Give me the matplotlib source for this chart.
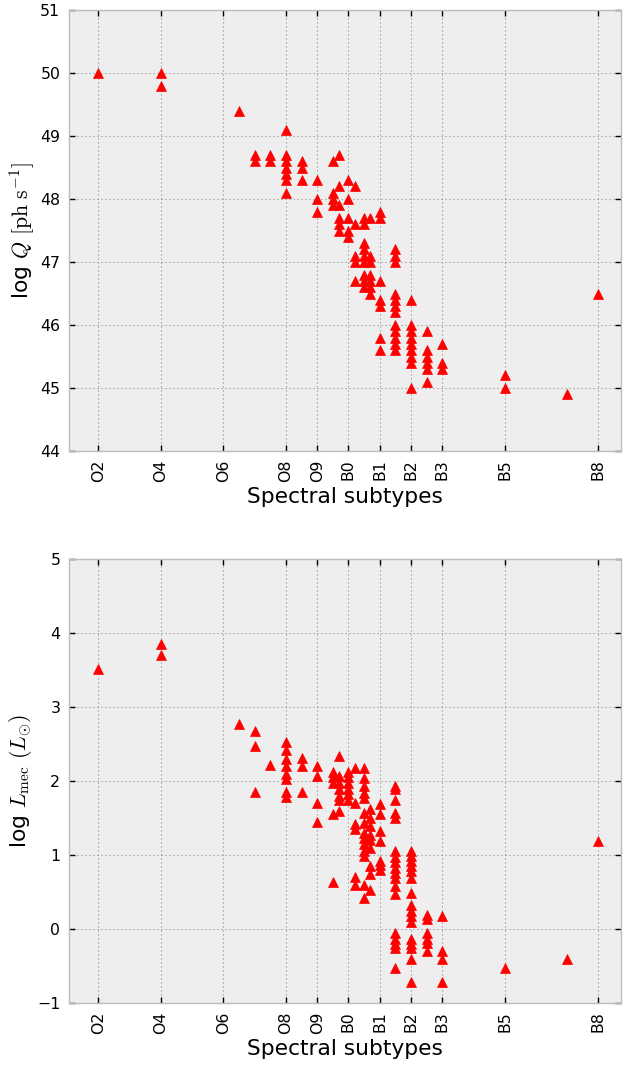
import matplotlib
matplotlib.use('Agg')
import matplotlib.pyplot as plt

# Spectral subtype axis (numeric position -> label)
tick_pos = [2, 4, 6, 8, 9, 10, 11, 12, 13, 15, 18]
tick_labels = ['O2', 'O4', 'O6', 'O8', 'O9', 'B0', 'B1', 'B2', 'B3', 'B5', 'B8']

# Top panel: log Q per spectral subtype
q_types = [2, 4, 6.5, 7, 7.5, 8, 8.5, 9, 9.5, 9.7, 10, 10.2, 10.5, 10.7,
           11, 11.5, 12, 12.5, 13, 15, 17, 18]
q_vals = [
    [50.0],
    [50.0, 49.8],
    [49.4],
    [48.7, 48.6],
    [48.7, 48.6],
    [49.1, 48.7, 48.6, 48.5, 48.4, 48.3, 48.1],
    [48.6, 48.5, 48.3],
    [48.3, 48.0, 47.8],
    [48.6, 48.1, 48.0, 47.9],
    [48.7, 48.2, 47.9, 47.7, 47.6, 47.5],
    [48.3, 48.0, 47.7, 47.5, 47.4],
    [48.2, 47.6, 47.1, 47.0, 46.7],
    [47.7, 47.6, 47.3, 47.2, 47.1, 47.0, 46.8, 46.7, 46.6],
    [47.7, 47.1, 47.0, 46.8, 46.7, 46.6, 46.5],
    [47.8, 47.7, 46.7, 46.4, 46.3, 45.8, 45.6],
    [47.2, 47.1, 47.0, 46.5, 46.4, 46.3, 46.2, 46.0, 45.9, 45.8, 45.7, 45.6],
    [46.4, 46.0, 45.9, 45.8, 45.7, 45.6, 45.5, 45.4, 45.0],
    [45.9, 45.6, 45.5, 45.4, 45.3, 45.1],
    [45.7, 45.4, 45.3],
    [45.2, 45.0],
    [44.9],
    [46.5],
]

# Bottom panel: log L_mec per spectral subtype
l_types = [2, 4, 6.5, 7, 7.5, 8, 8.5, 9, 9.5, 9.7, 10, 10.2, 10.5, 10.7,
           11, 11.5, 12, 12.5, 13, 15, 17, 18]
l_vals = [
    [3.51],
    [3.86, 3.70],
    [2.77],
    [2.68, 2.47, 1.85],
    [2.22],
    [2.53, 2.42, 2.30, 2.20, 2.10, 2.03, 1.85, 1.79],
    [2.31, 2.20, 1.86],
    [2.21, 2.07, 1.71, 1.45],
    [2.13, 2.06, 1.98, 1.55, 0.64],
    [2.34, 2.07, 1.98, 1.89, 1.80, 1.75, 1.60],
    [2.13, 2.05, 1.97, 1.89, 1.82, 1.74],
    [2.18, 1.71, 1.42, 1.35, 0.71, 0.60],
    [2.18, 2.04, 1.93, 1.84, 1.77, 1.57, 1.43, 1.30, 1.23, 1.15, 1.05, 0.99, 0.60, 0.42],
    [1.62, 1.50, 1.40, 1.27, 1.20, 1.10, 0.85, 0.74, 0.53],
    [1.69, 1.55, 1.32, 1.19, 0.92, 0.87, 0.80],
    [1.94, 1.89, 1.74, 1.57, 1.50, 1.05, 0.97, 0.90, 0.83, 0.76, 0.69, 0.58, 0.47,
     -0.06, -0.13, -0.20, -0.26, -0.53],
    [1.05, 0.99, 0.92, 0.85, 0.78, 0.69, 0.49, 0.33, 0.24, 0.17, 0.10,
     -0.13, -0.20, -0.26, -0.40, -0.71],
    [0.19, 0.14, -0.06, -0.13, -0.19, -0.30],
    [0.17, -0.30, -0.40, -0.71],
    [-0.53],
    [-0.40],
    [1.19],
]

q_yticks = list(range(44, 52))
l_yticks = list(range(-1, 6))

plt.rcParams['mathtext.fontset'] = 'cm'
plt.rcParams['font.family'] = ['DejaVu Sans']

fig = plt.figure(figsize=(6.23, 10.65), dpi=100)
left, width = 68.7 / 623, (621 - 68.7) / 623
ax1 = fig.add_axes([left, 1 - 451 / 1065, width, 441 / 1065])
ax2 = fig.add_axes([left, 1 - 1003 / 1065, width, (1003 - 559.3) / 1065])


def flatten(types, vals):
    xs, ys = [], []
    for t, vs in zip(types, vals):
        for v in vs:
            xs.append(t)
            ys.append(v)
    return xs, ys


def style(ax, yticks, ylabel):
    ax.set_facecolor('#eeeeee')
    for s in ax.spines.values():
        s.set_color('#bcbcbc')
        s.set_linewidth(1.0)
    ax.set_axisbelow(True)
    ax.grid(True, color='#8c8c8c', linestyle=(0, (1, 2.6)), linewidth=0.8)
    ax.set_xlim(1.05, 18.72)
    ax.set_ylim(yticks[0], yticks[-1])
    ax.set_xticks(tick_pos)
    ax.set_xticklabels(tick_labels, rotation=90)
    ax.set_yticks(yticks)
    ax.tick_params(direction='in', length=4, width=1, color='black',
                   top=True, right=True, labelsize=11.3, pad=6)
    ax.set_xlabel('Spectral subtypes', fontsize=15.7, labelpad=4)
    ax.set_ylabel(ylabel, fontsize=15.7, labelpad=2)


x, y = flatten(q_types, q_vals)
ax1.plot(x, y, ls='none', marker='^', color='red', mec='red', ms=7.5, mew=0.5)
style(ax1, q_yticks, r'log $Q$ $[\mathrm{ph\ s^{-1}}]$')

x, y = flatten(l_types, l_vals)
ax2.plot(x, y, ls='none', marker='^', color='red', mec='red', ms=7.5, mew=0.5)
style(ax2, l_yticks, r'log $L_{\mathrm{mec}}$ $(L_{\odot})$')

fig.savefig('out.png', dpi=100)
